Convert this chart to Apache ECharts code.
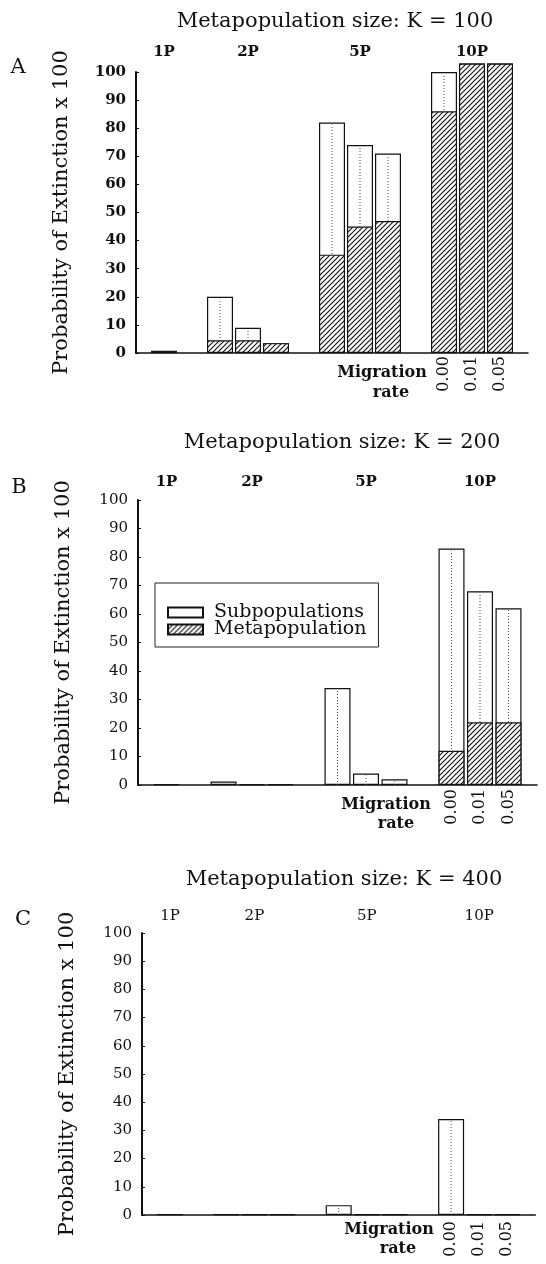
<!DOCTYPE html>
<html>
<head>
<meta charset="utf-8">
<script src="https://cdn.jsdelivr.net/npm/echarts@6/dist/echarts.min.js"></script>
<style>
html,body{margin:0;padding:0;background:#fff;overflow:hidden;}
#chart{width:546px;height:1264px;}
</style>
</head>
<body>
<div id="chart"></div>
<script>
// Slots along the x axis: leading gap, 1P, gap, 2P x3 rates, gap, 5P x3, gap, 10P x3, trailing gap
const slots = ['s0','1P','g1','2P 0.00','2P 0.01','2P 0.05','g2','5P 0.00','5P 0.01','5P 0.05','g3','10P 0.00','10P 0.01','10P 0.05','s14'];
const groupLabels = ['', '1P', '', '', '2P', '', '', '', '5P', '', '', '', '10P', '', ''];
const rateLabels = ['', '', '', '', '', '', '', '', '', '', '', '0.00', '0.01', '0.05', ''];
const yTicks = [0,10,20,30,40,50,60,70,80,90,100];

const titles = ['Metapopulation size: K = 100','Metapopulation size: K = 200','Metapopulation size: K = 400'];
const panelLetters = ['A','B','C'];

// Panel A (K = 100)
const subA  = [null, 0.8, null, 20, 9, 3.5, null, 82, 74, 71, null, 100, 103, 103, null];
const metaA = [null, 0.6, null, 4.5, 4.5, 3.5, null, 35, 45, 47, null, 86, 103, 103, null];
// Panel B (K = 200)
const subB  = [null, 0.3, null, 1.2, 0.3, 0.3, null, 34, 4, 2, null, 83, 68, 62, null];
const metaB = [null, null, null, null, null, null, null, null, null, null, null, 12, 22, 22, null];
// Panel C (K = 400)
const subC  = [null, 0.2, null, 0.3, 0.3, 0.3, null, 3.5, 0.3, 0.3, null, 34, 0.3, 0.3, null];
const metaC = [null, null, null, null, null, null, null, null, null, null, null, null, null, null, null];

const subs = [subA, subB, subC];
const metas = [metaA, metaB, metaC];

// hatch pattern
function makeHatch(){
  const s = 5;
  const c = document.createElement('canvas');
  c.width = s; c.height = s;
  const g = c.getContext('2d');
  g.fillStyle = '#fff'; g.fillRect(0,0,s,s);
  g.strokeStyle = '#111'; g.lineWidth = 1.1;
  g.beginPath();
  g.moveTo(-1, s+1); g.lineTo(s+1, -1);
  g.moveTo(-1, 1); g.lineTo(1, -1);
  g.moveTo(s-1, s+1); g.lineTo(s+1, s-1);
  g.stroke();
  return c;
}
const hatch = {image: makeHatch(), repeat: 'repeat'};

const SERIF = '"DejaVu Serif", "Liberation Serif", serif';

const grids = [
  {left:136, top:72, height:281, width:14*28},
  {left:138, top:500, height:285, width:14*28.5},
  {left:142, top:933, height:282, width:14*28.1}
];
const topMargins = [12, 10, 9];
const rateMargins = [3, 4, 6];
const tickWeights = ['bold', 'normal', 'normal'];
const groupWeights = ['bold', 'bold', 'normal'];

const option = {
  animation: false,
  backgroundColor: '#fff',
  grid: grids,
  xAxis: [],
  yAxis: [],
  series: [],
  legend: {
    data: ['Subpopulations','Metapopulation'],
    left: 155, top: 583,
    orient: 'vertical',
    icon: 'rect',
    itemWidth: 35, itemHeight: 10, itemGap: -2,
    padding: [20, 12, 8, 12],
    borderColor: '#222', borderWidth: 1,
    selectedMode: false,
    textStyle: {fontFamily: SERIF, fontSize: 19, color: '#111', padding: [0, 0, 0, 6]}
  },
  graphic: []
};

for (let p = 0; p < 3; p++) {
  option.xAxis.push({
    type: 'category', gridIndex: p, position: 'bottom',
    data: rateLabels, boundaryGap: false,
    axisLine: {show: true, lineStyle: {color: '#111', width: 1.5}},
    axisTick: {show: false},
    axisLabel: {show: true, interval: 0, rotate: 90, margin: rateMargins[p],
      fontFamily: SERIF, fontSize: 16, fontWeight: 'normal', color: '#111'},
    splitLine: {show: false}
  });
}
for (let p = 0; p < 3; p++) {
  option.xAxis.push({
    type: 'category', gridIndex: p, position: 'top',
    data: groupLabels, boundaryGap: false,
    axisLine: {show: false}, axisTick: {show: false},
    axisLabel: {show: true, interval: 0, margin: topMargins[p],
      fontFamily: SERIF, fontSize: 15, fontWeight: groupWeights[p], color: '#111'},
    splitLine: {show: false}
  });
}
for (let p = 0; p < 3; p++) {
  option.yAxis.push({
    type: 'value', gridIndex: p, min: yTicks[0], max: yTicks[yTicks.length-1], interval: 10,
    name: 'Probability of Extinction x 100', nameLocation: 'middle', nameGap: 64,
    nameTextStyle: {fontFamily: SERIF, fontSize: 21, color: '#111'},
    axisLine: {show: true, lineStyle: {color: '#111', width: 2}},
    axisTick: {show: true, inside: true, length: 3, lineStyle: {color: '#111', width: 1}},
    axisLabel: {margin: 10, fontFamily: SERIF, fontSize: 15, fontWeight: tickWeights[p], color: '#111'},
    splitLine: {show: false}
  });
  option.series.push({
    name: 'Subpopulations', type: 'bar', xAxisIndex: p, yAxisIndex: p,
    data: subs[p], barWidth: 26, barGap: '-100%', clip: false, z: 2,
    itemStyle: {color: '#fff', borderColor: '#111', borderWidth: 1.2}
  });
  option.series.push({
    name: 'centre' + p, type: 'custom', xAxisIndex: p, yAxisIndex: p, z: 3,
    data: subs[p].map((v, i) => [i, v]),
    encode: {x: 0, y: 1},
    renderItem: function (params, api) {
      const v = api.value(1);
      if (v == null || isNaN(v) || v < 2) return null;
      const a = api.coord([api.value(0), 0]);
      const b = api.coord([api.value(0), v]);
      return {type: 'line', shape: {x1: a[0], y1: a[1], x2: b[0], y2: b[1] + 2},
        style: {stroke: '#444', lineWidth: 1, lineDash: [1, 2]}};
    }
  });
  option.series.push({
    name: 'Metapopulation', type: 'bar', xAxisIndex: p, yAxisIndex: p,
    data: metas[p], barWidth: 26, barGap: '-100%', clip: false, z: 4,
    itemStyle: {color: hatch, borderColor: '#111', borderWidth: 1.2}
  });
}

const titlePos = [[335, 22], [342, 443], [344, 880]];
const letterPos = [[18, 68], [19, 488], [23, 920]];
const migPos = [[382, 373, 391, 393], [386, 805, 396, 824], [389, 1230, 398, 1249]];
for (let p = 0; p < 3; p++) {
  option.graphic.push({type: 'text', x: titlePos[p][0], y: titlePos[p][1],
    style: {text: titles[p], fontFamily: SERIF, fontSize: 21, fill: '#111', align: 'center', verticalAlign: 'middle'}});
  option.graphic.push({type: 'text', x: letterPos[p][0], y: letterPos[p][1],
    style: {text: panelLetters[p], fontFamily: SERIF, fontSize: 21, fill: '#111', align: 'center', verticalAlign: 'middle'}});
  option.graphic.push({type: 'text', x: migPos[p][0], y: migPos[p][1],
    style: {text: 'Migration', fontFamily: SERIF, fontSize: 16, fontWeight: 'bold', fill: '#111', align: 'center', verticalAlign: 'middle'}});
  option.graphic.push({type: 'text', x: migPos[p][2], y: migPos[p][3],
    style: {text: 'rate', fontFamily: SERIF, fontSize: 16, fontWeight: 'bold', fill: '#111', align: 'center', verticalAlign: 'middle'}});
}

const chart = echarts.init(document.getElementById('chart'), null, {renderer: 'canvas'});
chart.setOption(option);
</script>
</body>
</html>
